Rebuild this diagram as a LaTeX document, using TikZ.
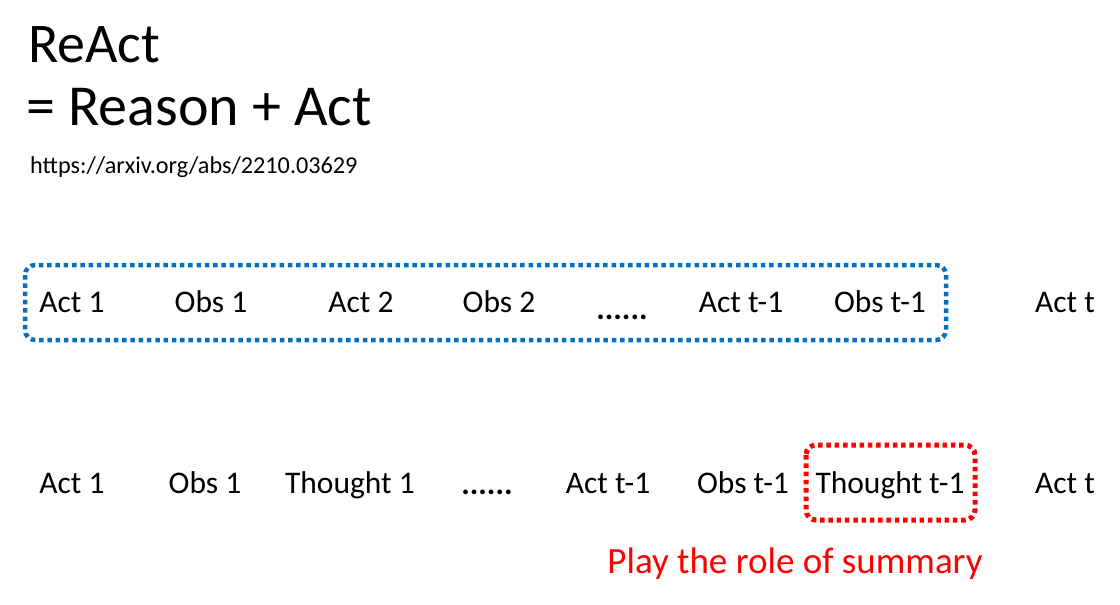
\documentclass[tikz,border=0pt]{standalone}
\usepackage{fontspec}
\setmainfont{Carlito}
\definecolor{boxblue}{HTML}{0070C0}
\definecolor{boxred}{HTML}{FF0000}
\begin{document}
\begin{tikzpicture}[x=1pt,y=-1pt,
  lbl/.style={inner sep=0pt,anchor=base,font=\fontsize{31.5}{36}\selectfont},
  dotsl/.style={inner sep=0pt,anchor=base,font=\fontsize{32}{36}\selectfont\bfseries},
  dotbox/.style={line width=4.5pt,line cap=butt,dash pattern=on 4.5pt off 3.8pt,rounded corners=10pt}]
\useasboundingbox (0,0) rectangle (1120,605);

% heading
\node[inner sep=0pt,anchor=base west,font=\fontsize{56}{62}\selectfont] (title) at (28,62) {ReAct};
\node[inner sep=0pt,anchor=base west,font=\fontsize{58}{64}\selectfont] (eq) at (26,125) {= Reason + Act};
\node[inner sep=0pt,anchor=base west,font=\fontsize{24.2}{28}\selectfont] (url) at (30,173) {https://arxiv.org/abs/2210.03629};

% first sequence: actions and observations only
\node[lbl] (a1) at (72,312) {Act 1};
\node[lbl] (o1) at (211,312) {Obs 1};
\node[lbl] (a2) at (361,312) {Act 2};
\node[lbl] (o2) at (499,312) {Obs 2};
\node[dotsl] (d1) at (622,319) {......};
\node[lbl] (at1) at (741,312) {Act t-1};
\node[lbl] (ot1) at (880,312) {Obs t-1};
\node[lbl] (at) at (1065,312) {Act t};
\draw[dotbox,boxblue] (25,265) rectangle (946,340);

% second sequence: with thoughts
\node[lbl] (b1) at (72,493) {Act 1};
\node[lbl] (p1) at (205,493) {Obs 1};
\node[lbl] (th1) at (350,493) {Thought 1};
\node[dotsl] (d2) at (487,494) {......};
\node[lbl] (bt1) at (608,493) {Act t-1};
\node[lbl] (pt1) at (743,493) {Obs t-1};
\node[lbl] (tht1) at (890,493) {Thought t-1};
\node[lbl] (bt) at (1065,493) {Act t};
\draw[dotbox,boxred,line width=5pt] (806,445) rectangle (975,520);

\node[inner sep=0pt,anchor=base,text=boxred,font=\fontsize{37}{42}\selectfont] (sum) at (795,573) {Play the role of summary};
\end{tikzpicture}
\end{document}
